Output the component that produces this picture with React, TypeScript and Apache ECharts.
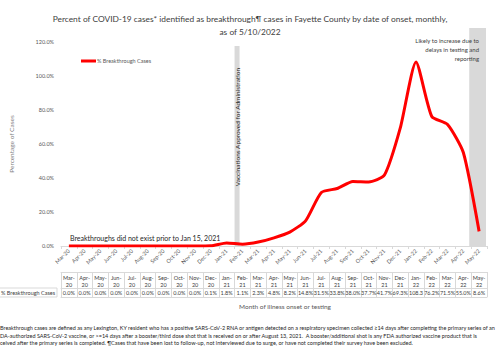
import React, { useEffect, useRef } from "react";
import * as echarts from "echarts";

const months = [
  "Mar-20", "Apr-20", "May-20", "Jun-20", "Jul-20", "Aug-20", "Sep-20", "Oct-20", "Nov-20",
  "Dec-20", "Jan-21", "Feb-21", "Mar-21", "Apr-21", "May-21", "Jun-21", "Jul-21", "Aug-21",
  "Sep-21", "Oct-21", "Nov-21", "Dec-21", "Jan-22", "Feb-22", "Mar-22", "Apr-22", "May-22",
];
const breakthroughPct = [
  0.0, 0.0, 0.0, 0.0, 0.0, 0.0, 0.0, 0.0, 0.0, 0.1, 1.8, 1.1, 2.3, 4.8, 8.2, 14.8, 31.5, 33.8,
  38.0, 37.7, 41.7, 69.3, 108.3, 76.2, 71.5, 55.0, 8.6,
];
const seriesName = "% Breakthrough Cases";
const yMin = 0;
const yMax = 120;
const yInterval = 20;
const vaccineMonth = "Feb-21";
const prevMonth = "Jan-21";
const lateMonth = "May-22";

const titleText =
  "Percent of COVID-19 cases* identified as breakthrough¶ cases in Fayette County by date of onset, monthly,\nas of 5/10/2022";
const footnotes = [
  "Breakthrough cases are defined as any Lexington, KY resident who has a positive SARS-CoV-2 RNA or antigen detected on a respiratory specimen collected ≥14 days after completing the primary series of an",
  "DA-authorized SARS-CoV-2 vaccine, or >=14 days after a booster/third dose shot that is received on or after August 13, 2021.  A booster/additional shot is any FDA authorized vaccine product that is",
  "ceived after the primary series is completed. ¶Cases that have been lost to follow-up, not interviewed due to surge, or have not completed their survey have been excluded.",
];

const FONT = "Lato";
const fmtPct = (v: number) => v.toFixed(1) + "%";

export default function App() {
  const ref = useRef<HTMLDivElement>(null);
  useEffect(() => {
    if (!ref.current) return;
    const chart = echarts.init(ref.current, null, { renderer: "svg" });
    const tableLine = "#d9d9d9";
    const option: any = {
      animation: false,
      textStyle: { fontFamily: FONT },
      title: {
        text: titleText,
        left: "center",
        top: 8,
        textStyle: { fontSize: 8.4, fontWeight: "normal", color: "#404040", lineHeight: 12.5, fontFamily: FONT },
      },
      legend: {
        left: 76,
        top: 53,
        icon: "rect",
        itemWidth: 15,
        itemHeight: 3,
        itemGap: 0,
        textStyle: { fontSize: 5.5, color: "#595959", padding: [0, 0, 0, -4] },
        data: [seriesName],
      },
      grid: { left: 57, right: 13, top: 42, bottom: 108 },
      xAxis: [
        {
          type: "category",
          data: months,
          boundaryGap: true,
          axisLine: { lineStyle: { color: tableLine } },
          axisTick: { show: true, length: 3, lineStyle: { color: tableLine }, interval: 0 },
          axisLabel: { rotate: 45, fontSize: 5.5, color: "#595959", interval: 0, margin: 4 },
        },
        {
          type: "category",
          data: months,
          position: "bottom",
          offset: 26,
          axisLine: { lineStyle: { color: tableLine } },
          axisTick: { show: true, length: 25, lineStyle: { color: tableLine }, interval: 0 },
          axisLabel: {
            interval: 0,
            fontSize: 5.5,
            lineHeight: 7,
            margin: 2,
            color: "#404040",
            formatter: (v: string) => v.replace("-", "-\n"),
          },
        },
        {
          type: "category",
          data: months,
          position: "bottom",
          offset: 42,
          axisLine: { lineStyle: { color: tableLine } },
          axisTick: { show: false },
          axisLabel: {
            interval: 0,
            fontSize: 5.5,
            margin: 2,
            color: "#404040",
            width: 16.5,
            overflow: "truncate",
            ellipsis: "",
            formatter: (_v: string, i: number) => fmtPct(breakthroughPct[i]),
          },
        },
        {
          type: "category",
          data: months,
          position: "bottom",
          offset: 51,
          axisLine: { lineStyle: { color: tableLine } },
          axisTick: { show: false },
          axisLabel: { show: false },
        },
      ],
      yAxis: {
        type: "value",
        min: yMin,
        max: yMax,
        interval: yInterval,
        name: "Percentage of Cases",
        nameLocation: "middle",
        nameGap: 46,
        nameTextStyle: { fontSize: 6.5, color: "#7f7f7f" },
        axisLine: { show: false },
        axisTick: { show: false },
        splitLine: { show: false },
        axisLabel: { fontSize: 5.5, color: "#595959", margin: 7, formatter: (v: number) => fmtPct(v) },
      },
      series: [
        {
          name: seriesName,
          type: "line",
          data: breakthroughPct,
          xAxisIndex: 0,
          color: "#ff0000",
          lineStyle: { width: 3, color: "#ff0000" },
          smooth: 0.2,
          symbol: "none",
          z: 3,
        },
      ],
    };
    chart.setOption(option);

    const xPrev = chart.convertToPixel({ xAxisIndex: 0 }, prevMonth) as number;
    const xVac = chart.convertToPixel({ xAxisIndex: 0 }, vaccineMonth) as number;
    const xLate = chart.convertToPixel({ xAxisIndex: 0 }, lateMonth) as number;
    const y0 = chart.convertToPixel({ yAxisIndex: 0 }, 0) as number;
    const yVacTop = chart.convertToPixel({ yAxisIndex: 0 }, 117.6) as number;
    const yLateTop = chart.convertToPixel({ yAxisIndex: 0 }, 128.2) as number;
    const boundary = (xPrev + xVac) / 2;
    const band = xVac - xPrev;

    chart.setOption({
      graphic: [
        {
          type: "rect",
          z: 1,
          shape: { x: boundary, y: yVacTop, width: 5, height: y0 - yVacTop },
          style: { fill: "#d9d9d9" },
        },
        {
          type: "rect",
          z: 1,
          shape: { x: xLate - band / 2 - 2, y: yLateTop, width: band + 1, height: y0 - yLateTop },
          style: { fill: "#d9d9d9" },
        },
        {
          type: "text",
          z: 5,
          x: boundary + 2.5,
          y: 127,
          rotation: Math.PI / 2,
          style: {
            text: "Vaccinations Approved for Administration",
            fontSize: 6.5,
            fontFamily: FONT,
            fill: "#262626",
            align: "center",
            verticalAlign: "middle",
          },
        },
        {
          type: "text",
          z: 5,
          x: 479,
          y: 36,
          style: {
            text: "Likely to increase due to\ndelays in testing and\nreporting",
            fontSize: 6,
            lineHeight: 9,
            fontFamily: FONT,
            fill: "#404040",
            align: "right",
            verticalAlign: "top",
          },
        },
        {
          type: "text",
          z: 5,
          x: 70,
          y: 238,
          style: {
            text: "Breakthroughs did not exist prior to Jan 15, 2021",
            fontSize: 7,
            fontFamily: FONT,
            fill: "#262626",
            verticalAlign: "middle",
          },
        },
        {
          type: "rect",
          z: 1,
          shape: { x: -1, y: 288, width: 58, height: 9 },
          style: { fill: "none", stroke: tableLine, lineWidth: 1 },
        },
        {
          type: "text",
          z: 5,
          x: 1,
          y: 292.5,
          style: {
            text: seriesName,
            fontSize: 5.5,
            fontFamily: FONT,
            fill: "#404040",
            verticalAlign: "middle",
          },
        },
        {
          type: "text",
          z: 5,
          x: 285,
          y: 306,
          style: {
            text: "Month of illness onset or testing",
            fontSize: 6.5,
            fontFamily: FONT,
            fill: "#595959",
            align: "center",
            verticalAlign: "middle",
          },
        },
        ...footnotes.map((t, i) => ({
          type: "text",
          z: 5,
          x: 0,
          y: 328 + i * 7.5,
          style: {
            text: t,
            fontSize: 5.5,
            fontFamily: FONT,
            fill: "#262626",
            verticalAlign: "middle",
          },
        })),
      ],
    });

    return () => chart.dispose();
  }, []);
  return (
    <div
      ref={ref}
      style={{ position: "absolute", left: 0, top: 0, width: 500, height: 354 }}
    />
  );
}
